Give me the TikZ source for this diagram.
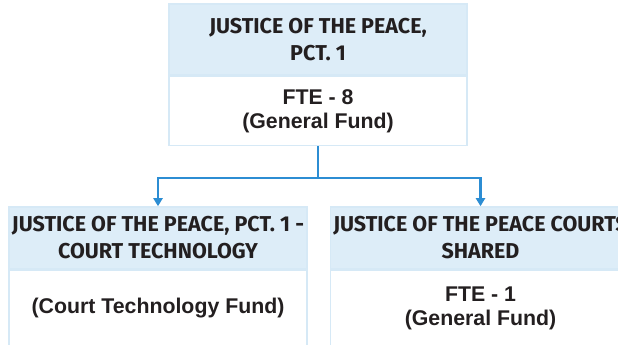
\documentclass[tikz,border=0pt]{standalone}
\usepackage{fontspec}
\setmainfont{Liberation Sans}
\newfontfamily\headfont{Fira Sans}
\usepackage{tikz}
\usetikzlibrary{positioning}
\usetikzlibrary{arrows.meta}
\tikzset{>={Triangle[width=9pt,length=8pt]}}
\definecolor{headfill}{HTML}{DDEDF8}
\definecolor{boxline}{HTML}{D6E9F6}
\definecolor{linkblue}{HTML}{2C8DD3}
\definecolor{inkgray}{HTML}{231F20}

\begin{document}
\begin{tikzpicture}[x=1pt, y=1pt, head/.style={rectangle, draw=boxline, line width=1.5pt, fill=headfill, text=inkgray, align=center, inner sep=0pt, font=\headfont\bfseries\fontsize{21.5}{27}\selectfont}, body/.style={rectangle, draw=boxline, line width=1.5pt, fill=white, text=inkgray, align=center, inner sep=0pt, font=\bfseries\fontsize{21.3}{24}\selectfont}]
    \useasboundingbox (0,0) rectangle (618,345);
    
    %Nodes
    \node[head, minimum width=298pt, minimum height=71pt](jp_head) at (318,305.5){JUSTICE OF THE PEACE,\\PCT. 1};
    \node[body, minimum width=298pt, minimum height=69pt](jp_body)[below=0pt of jp_head]{FTE - 8\\(General Fund)};
    \node[head, minimum width=298pt, minimum height=62pt](tech_head) at (158,107){JUSTICE OF THE PEACE, PCT. 1 -\\COURT TECHNOLOGY};
    \node[body, minimum width=298pt, minimum height=75pt](tech_body)[below=0pt of tech_head]{(Court Technology Fund)};
    \node[head, minimum width=300pt, minimum height=62pt](shared_head)[right=22pt of tech_head]{JUSTICE OF THE PEACE COURTS\\SHARED};
    \node[body, minimum width=300pt, minimum height=75pt](shared_body)[below=0pt of shared_head]{FTE - 1\\(General Fund)};
    \coordinate[below=32pt of jp_body.south](split);
    
    %Lines
    \draw[linkblue, line width=2.2pt] (jp_body.south) -- (split);
    \draw[->, linkblue, line width=2.2pt] (split) -| (tech_head.north);
    \draw[->, linkblue, line width=2.2pt] (split) -| (shared_head.north);
    
\end{tikzpicture}
\end{document}
